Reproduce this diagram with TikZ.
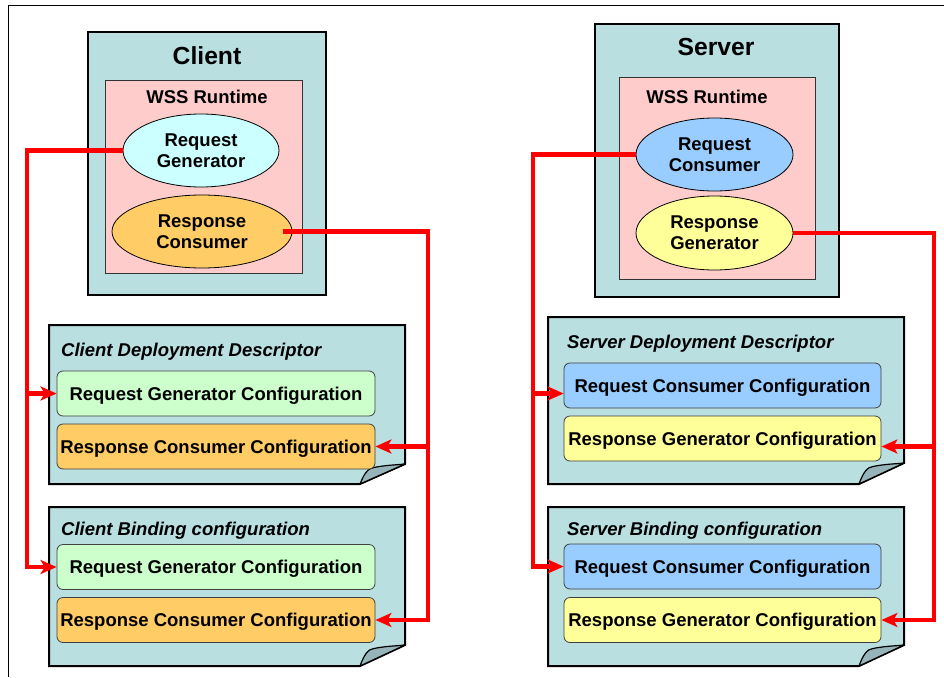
\documentclass[tikz,border=0pt]{standalone}
\usepackage{fontspec}
\setmainfont{Liberation Sans}
\usetikzlibrary{arrows.meta,shapes.geometric}
\definecolor{shell}{RGB}{185,223,225}
\definecolor{flap}{RGB}{150,180,186}
\definecolor{rtpink}{RGB}{255,204,204}
\definecolor{reqcyan}{RGB}{204,255,255}
\definecolor{resporange}{RGB}{255,204,102}
\definecolor{reqblue}{RGB}{153,204,255}
\definecolor{respyellow}{RGB}{255,255,153}
\definecolor{cfggreen}{RGB}{204,255,204}
\definecolor{wirered}{RGB}{255,0,0}

\begin{document}
\begin{tikzpicture}[x=1pt,y=-1pt,>={Stealth[length=16pt,width=14pt,inset=4pt]},
 font=\fontsize{18.5}{21}\selectfont\bfseries,
 host/.style={draw,line width=2.5pt,fill=shell,inner sep=0pt},
 runtime/.style={draw=black!80,line width=0.8pt,fill=rtpink,inner sep=0pt},
 handler/.style={ellipse,draw,line width=0.8pt,inner sep=0pt,align=center,minimum height=73pt},
 conf/.style={draw=black!75,line width=0.8pt,rounded corners=6pt,minimum width=318pt,minimum height=45pt,inner sep=0pt,text height=13.5pt,text depth=0.5pt},
 hosttitle/.style={font=\fontsize{24.7}{28}\selectfont\bfseries},
 doctitle/.style={anchor=base west,inner sep=0pt,font=\fontsize{18.5}{21}\selectfont\bfseries\itshape},
 wire/.style={wirered,line width=4.5pt}]
\useasboundingbox (0,0) rectangle (944,677);
\draw[line width=0.8pt] (944,5) -- (8,5) -- (8,677);
\node[host,minimum width=238pt,minimum height=263pt] (client) at (207,163.5) {};
\node[hosttitle] (clientlbl) at (207,56) {Client};
\node[runtime,minimum width=197pt,minimum height=193pt] (crt) at (203.5,176.5) {};
\node (crtlbl) at (207,97) {WSS Runtime};
\node[handler,fill=reqcyan,minimum width=156pt] (reqgen) at (201,150.5) {Request\\Generator};
\node[handler,fill=resporange,minimum width=180pt] (respcon) at (202,231.5) {Response\\Consumer};
\node[host,minimum width=244pt,minimum height=273pt] (server) at (717,160.5) {};
\node[hosttitle] (serverlbl) at (716,47) {Server};
\node[runtime,minimum width=196pt,minimum height=202pt] (srt) at (717,178) {};
\node (srtlbl) at (707,97) {WSS Runtime};
\node[handler,fill=reqblue,minimum width=157pt] (reqcon) at (714.5,154.5) {Request\\Consumer};
\node[handler,fill=respyellow,minimum width=157pt,minimum height=74pt] (respgen) at (714.5,233) {Response\\Generator};
\foreach \xa/\ya/\xb/\yb/\fx/\fy in {49/325/405/484/360/464,49/507/405/666/360/645,548/317/904/484/859/463,548/507/904/666/859/645}{
 \draw[line width=2pt,fill=shell] (\xa,\ya) -- (\xb,\ya) -- (\xb,\fy) -- (\fx,\yb) -- (\xa,\yb) -- cycle;
 \draw[line width=1.2pt,fill=flap,line join=round] (\fx,\yb) .. controls (\fx+4,\fy+10) and (\fx+8,\fy+4) .. (\fx+14,\fy+3.5) .. controls (\fx+26,\fy+1) and (\fx+36,\fy+1) .. (\xb,\fy) -- cycle;
}
\node[doctitle] (cddlbl) at (61,356) {Client Deployment Descriptor};
\node[doctitle] (cbclbl) at (61,535) {Client Binding configuration};
\node[doctitle] (sddlbl) at (567,348) {Server Deployment Descriptor};
\node[doctitle] (sbclbl) at (567,535) {Server Binding configuration};
\node[conf,fill=cfggreen] (cddreq) at (216,393.5) {Request Generator Configuration};
\node[conf,fill=resporange] (cddresp) at (216,446.5) {Response Consumer Configuration};
\node[conf,fill=cfggreen] (cbcreq) at (216,567) {Request Generator Configuration};
\node[conf,fill=resporange] (cbcresp) at (216,620) {Response Consumer Configuration};
\node[conf,fill=reqblue,minimum width=317pt] (sddreq) at (722.5,385.5) {Request Consumer Configuration};
\node[conf,fill=respyellow,minimum width=317pt] (sddresp) at (722.5,438.5) {Response Generator Configuration};
\node[conf,fill=reqblue,minimum width=317pt] (sbcreq) at (722.5,566.5) {Request Consumer Configuration};
\node[conf,fill=respyellow,minimum width=317pt] (sbcresp) at (722.5,620) {Response Generator Configuration};
\coordinate (cbus) at (27,0);
\coordinate (cret) at (428,0);
\coordinate (sbus) at (533,0);
\coordinate (sret) at (934,0);
\coordinate (sddin) at ([yshift=-8pt]sddreq.west);
\coordinate (sddout) at ([yshift=-8pt]sddresp.east);
\draw[wire,->] (reqgen.west) -| (cbus |- cbcreq.west) -- (cbcreq.west);
\draw[wire,->] (cbus |- cddreq.west) -- (cddreq.west);
\draw[wire,->] ([xshift=-9pt]respcon.east) -| (cret |- cbcresp.east) -- (cbcresp.east);
\draw[wire,->] (cret |- cddresp.east) -- (cddresp.east);
\draw[wire,->] (reqcon.west) -| (sbus |- sbcreq.west) -- (sbcreq.west);
\draw[wire,->] (sbus |- sddin) -- (sddin);
\draw[wire,->] (respgen.east) -| (sret |- sbcresp.east) -- (sbcresp.east);
\draw[wire,->] (sret |- sddout) -- (sddout);
\end{tikzpicture}
\end{document}
